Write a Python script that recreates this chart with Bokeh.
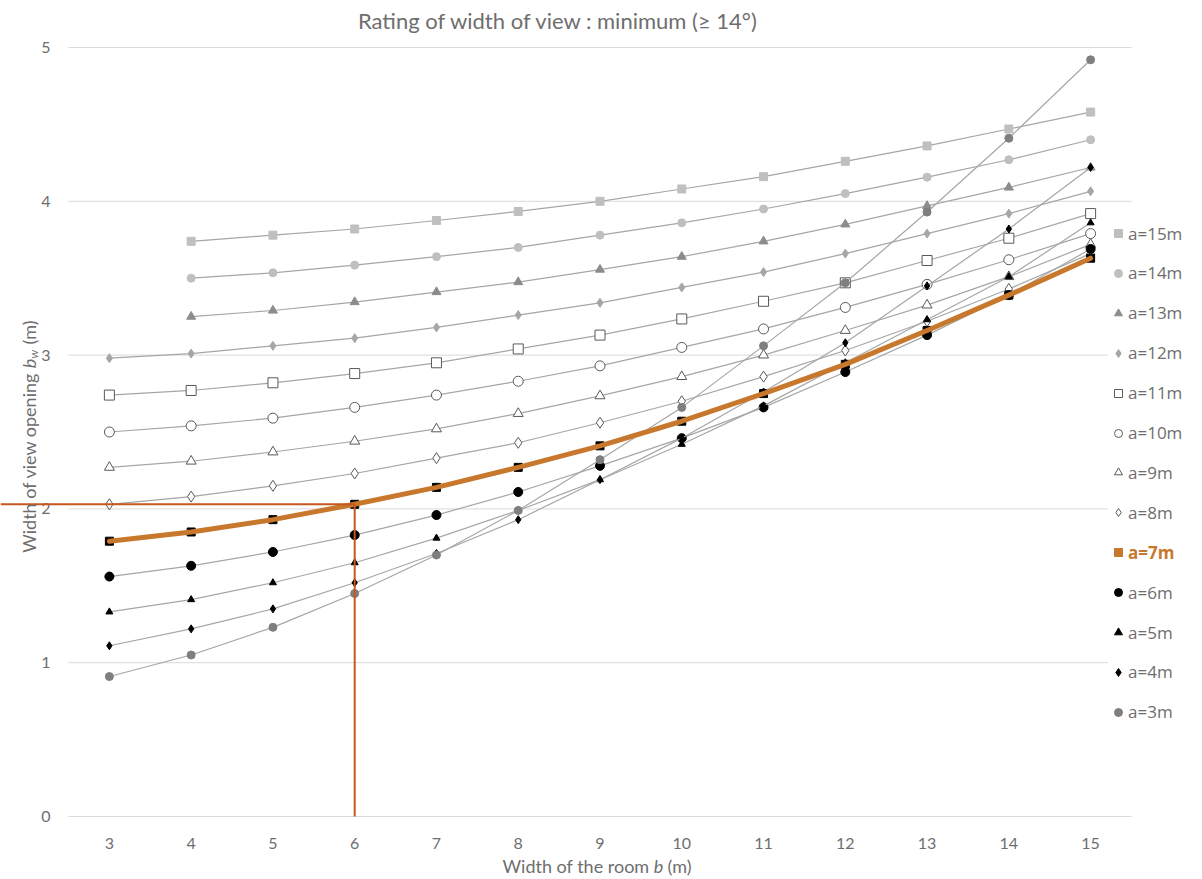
import math
from bokeh.plotting import figure
from bokeh.models import Range1d, Label, Legend, LegendItem, ColumnDataSource
from bokeh.core.properties import value
from bokeh.embed import file_html
from bokeh.resources import INLINE

NaN = float("nan")

# ---------------- data ----------------
b = [3, 4, 5, 6, 7, 8, 9, 10, 11, 12, 13, 14, 15]
x_tick_labels = [str(v) for v in b]
y_ticks = [0, 1, 2, 3, 4, 5]
y_tick_labels = [str(v) for v in y_ticks]
a3 = [0.91, 1.05, 1.23, 1.45, 1.70, 1.99, 2.32, 2.66, 3.06, 3.47, 3.93, 4.41, 4.92]
a4 = [1.11, 1.22, 1.35, 1.52, 1.71, 1.93, 2.19, 2.46, 2.76, 3.08, 3.45, 3.82, 4.22]
a5 = [1.33, 1.41, 1.52, 1.65, 1.81, 1.99, 2.19, 2.42, 2.67, 2.95, 3.23, 3.51, 3.86]
a6 = [1.56, 1.63, 1.72, 1.83, 1.96, 2.11, 2.28, 2.46, 2.66, 2.89, 3.13, 3.39, 3.69]
a7 = [1.79, 1.85, 1.93, 2.03, 2.14, 2.27, 2.41, 2.57, 2.75, 2.94, 3.16, 3.39, 3.63]
a8 = [2.03, 2.08, 2.15, 2.23, 2.33, 2.43, 2.56, 2.70, 2.86, 3.03, 3.22, 3.43, 3.66]
a9 = [2.27, 2.31, 2.37, 2.44, 2.52, 2.62, 2.735, 2.86, 3.00, 3.16, 3.325, 3.51, 3.72]
a10 = [2.50, 2.54, 2.59, 2.66, 2.74, 2.83, 2.93, 3.05, 3.17, 3.31, 3.46, 3.62, 3.79]
a11 = [2.74, 2.77, 2.82, 2.88, 2.95, 3.04, 3.13, 3.235, 3.35, 3.47, 3.615, 3.76, 3.92]
a12 = [2.98, 3.01, 3.06, 3.11, 3.18, 3.26, 3.34, 3.44, 3.54, 3.66, 3.79, 3.92, 4.065]
a13 = [NaN, 3.25, 3.29, 3.345, 3.41, 3.475, 3.556, 3.64, 3.74, 3.85, 3.97, 4.09, 4.22]
a14 = [NaN, 3.50, 3.535, 3.585, 3.64, 3.70, 3.78, 3.86, 3.95, 4.05, 4.157, 4.27, 4.40]
a15 = [NaN, 3.74, 3.78, 3.82, 3.875, 3.934, 4.00, 4.08, 4.16, 4.26, 4.36, 4.47, 4.58]
labels = ["a=15m", "a=14m", "a=13m", "a=12m", "a=11m", "a=10m", "a=9m",
          "a=8m", "a=7m", "a=6m", "a=5m", "a=4m", "a=3m"]
ref_b = 6          # chosen room width
ref_bw = a7[3]     # resulting opening width for a=7m

TXT = "#6e6e6e"
LINE = "#a6a6a6"
ORANGE = "#c8782c"
REF = "#c4581f"

styles = {
    "a=15m": ("square", "#bfbfbf", "#bfbfbf", 8),
    "a=14m": ("circle", "#bfbfbf", "#bfbfbf", 8),
    "a=13m": ("triangle", "#8c8c8c", "#8c8c8c", 9),
    "a=12m": ("diamond", "#a6a6a6", "#a6a6a6", 9),
    "a=11m": ("square", "white", "#595959", 10),
    "a=10m": ("circle", "white", "#595959", 10),
    "a=9m": ("triangle", "white", "#595959", 10),
    "a=8m": ("diamond", "white", "#595959", 11),
    "a=7m": ("square", "black", "black", 8),
    "a=6m": ("circle", "black", "black", 9),
    "a=5m": ("triangle", "black", "black", 7),
    "a=4m": ("diamond", "black", "black", 8),
    "a=3m": ("circle", "#7f7f7f", "#7f7f7f", 8),
}
values = [a15, a14, a13, a12, a11, a10, a9, a8, a7, a6, a5, a4, a3]

# ---------------- layout (pixels) ----------------
W, H = 1202, 879
PL, PR, PT, PB = 68, 1131, 47, 816        # plot area in page pixels
XLO, XHI, YLO, YHI = 2.5, 15.5, 0.0, 5.0
kx = (PR - PL) / (XHI - XLO)
ky = (PB - PT) / (YHI - YLO)
x_range = Range1d(XLO - PL / kx, XHI + (W - PR) / kx)
y_range = Range1d(YLO - (H - PB) / ky, YHI + PT / ky)

p = figure(width=W, height=H, output_backend="svg", toolbar_location=None,
           x_range=x_range, y_range=y_range,
           min_border=0, min_border_left=0, min_border_right=0,
           min_border_top=0, min_border_bottom=0)
p.title.visible = False
p.axis.visible = False
p.grid.visible = False
p.outline_line_color = None
p.background_fill_color = "white"
p.border_fill_color = "white"

# gridlines
p.segment(x0=[XLO] * len(y_ticks), x1=[XHI] * len(y_ticks), y0=y_ticks, y1=y_ticks,
          line_color="#d9d9d9", line_width=1)

# tick labels
p.text(x=b, y=[YLO - 27 / ky] * len(b), text=x_tick_labels,
       text_font=value("Lato"), text_font_size="16px", text_color=TXT,
       text_align="center", text_baseline="middle")
p.text(x=[XLO - 18 / kx] * len(y_ticks), y=y_ticks, text=y_tick_labels,
       text_font=value("Lato"), text_font_size="16px", text_color=TXT,
       text_align="right", text_baseline="middle")

# series lines + markers
marker_renderers = {}
for lab, vals in zip(labels, values):
    src = ColumnDataSource(data=dict(x=b, y=vals))
    p.line("x", "y", source=src, line_color=LINE, line_width=1.2)
    m, fc, lc, sz = styles[lab]
    r = p.scatter("x", "y", source=src, marker=m, size=sz, fill_color=fc,
                  line_color=lc, line_width=1)
    marker_renderers[lab] = r

# legend glyph for a=7m (orange square; zero size in the plot itself)
leg7 = p.scatter(b, a7, marker="square", size=0, fill_color=ORANGE,
                 line_color=ORANGE, line_width=1)

# highlighted a=7m curve
p.line(b, a7, line_color=ORANGE, line_width=5, line_join="round", line_cap="round")

# reference lines
p.segment(x0=[x_range.start], y0=[ref_bw], x1=[ref_b], y1=[ref_bw],
          line_color=REF, line_width=2)
p.segment(x0=[ref_b], y0=[YLO], x1=[ref_b], y1=[ref_bw], line_color=REF, line_width=2)

# ---------------- legends (one per entry) ----------------
for i, lab in enumerate(labels):
    r = leg7 if lab == "a=7m" else marker_renderers[lab]
    cy = 233 + 39.9 * i
    leg = Legend(items=[LegendItem(label=lab, renderers=[r])],
                 location=(1108, H - cy - 12),
                 padding=0, margin=0, spacing=0,
                 border_line_color=None, background_fill_color="white",
                 background_fill_alpha=1.0,
                 glyph_width=20, glyph_height=24, label_height=24,
                 label_standoff=0,
                 label_text_font="Open Sans", label_text_font_size="17px",
                 label_text_color=ORANGE if lab == "a=7m" else TXT,
                 label_text_font_style="bold" if lab == "a=7m" else "normal")
    p.add_layout(leg)

# ---------------- titles (screen units, from top-left) ----------------
def lab_(x, y, text, size, style="normal", align="center", angle=0.0):
    p.add_layout(Label(x=x, y=H - y, x_units="screen", y_units="screen", angle=angle,
                       text=text, text_font="Lato", text_font_size=size,
                       text_font_style=style, text_color=TXT,
                       text_align=align, text_baseline="middle"))

lab_(558, 20, "Rating of width of view : minimum (\u2265 14\u00b0)", "22px")

# x-axis title "Width of the room b (m)"
xb, yx = 658, 865
lab_(xb - 9, yx, "Width of the room", "18px", align="right")
lab_(xb, yx, "b", "18px", style="italic")
lab_(xb + 9, yx, "(m)", "18px", align="left")

# y-axis title "Width of view opening b_w (m)"
xy, yb = 28, 363
ang = math.pi / 2
lab_(xy, yb + 9, "Width of view opening", "18px", align="right", angle=ang)
lab_(xy, yb, "b", "18px", style="italic", angle=ang)
lab_(xy + 5, yb - 5, "w", "12px", style="italic", align="left", angle=ang)
lab_(xy, yb - 19, "(m)", "18px", align="left", angle=ang)

open("out.html", "w").write(file_html(p, INLINE))
